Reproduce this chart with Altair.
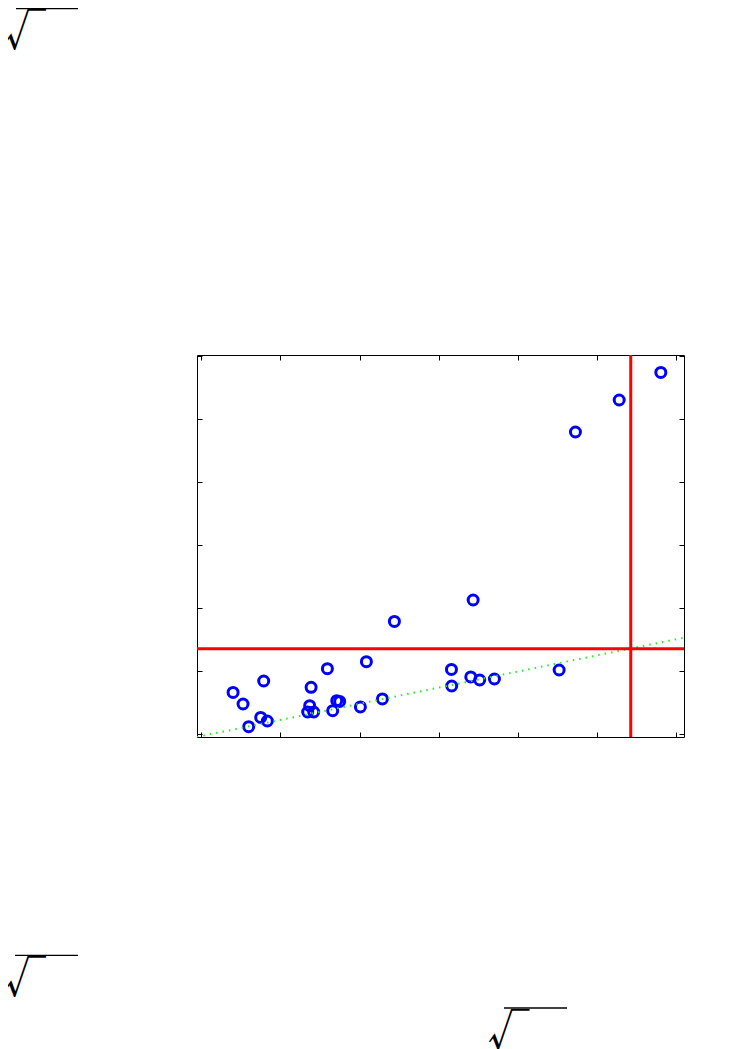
import altair as alt
import pandas as pd

x_vals = [0.401, 0.527, 0.788, 0.598, 0.750, 0.834, 1.387, 1.369, 1.344, 1.420,
          1.593, 1.711, 1.748, 1.660, 2.010, 2.086, 2.288, 2.440, 3.435, 3.161,
          3.164, 3.405, 3.518, 3.704, 4.522, 4.728, 5.281, 5.807]
y_vals = [0.660, 0.476, 0.841, 0.116, 0.263, 0.206, 0.740, 0.449, 0.349, 0.349,
          1.037, 0.529, 0.517, 0.370, 0.429, 1.148, 0.556, 1.787, 2.127, 1.025,
          0.762, 0.905, 0.857, 0.873, 1.016, 4.794, 5.302, 5.740]

x_ticks = [0, 1, 2, 3, 4, 5, 6]
y_ticks = [0, 1, 2, 3, 4, 5, 6]
x_domain = [-0.055, 6.10]
y_domain = [-0.048, 6.016]
vline_x = [5.427]
hline_y = [1.354]
fit_x = [-0.055, 6.10]
fit_y = [-0.047, 1.529]

pts = pd.DataFrame({"x": x_vals, "y": y_vals})
fit = pd.DataFrame({"x": fit_x, "y": fit_y})
vl = pd.DataFrame({"x": vline_x})
hl = pd.DataFrame({"y": hline_y})

xs = alt.Scale(domain=x_domain, nice=False, zero=False)
ys = alt.Scale(domain=y_domain, nice=False, zero=False)

def ax(orient, vals):
    return alt.Axis(orient=orient, values=vals, labels=False, domain=False, grid=False,
                    tickSize=5, offset=-5, tickColor="black", tickWidth=1, title=None)

points = alt.Chart(pts).mark_point(shape="circle", filled=False, color="#0000ff",
                                   size=100, strokeWidth=3, opacity=1).encode(
    x=alt.X("x:Q", scale=xs, axis=ax("bottom", x_ticks)),
    y=alt.Y("y:Q", scale=ys, axis=ax("left", y_ticks)),
)
fitline = alt.Chart(fit).mark_line(color="#22ee22", strokeDash=[1.5, 5], strokeWidth=2,
                                   clip=True).encode(
    x=alt.X("x:Q", scale=xs, axis=ax("top", x_ticks)),
    y=alt.Y("y:Q", scale=ys, axis=ax("right", y_ticks)),
)
vrule = alt.Chart(vl).mark_rule(color="#ff0000", strokeWidth=3).encode(
    x=alt.X("x:Q", scale=xs, axis=None))
hrule = alt.Chart(hl).mark_rule(color="#ff0000", strokeWidth=3).encode(
    y=alt.Y("y:Q", scale=ys, axis=None))

# stray radical-sign text remnants around the figure
glyph_x = [-193, -193, 290.5]
glyph_y = [-308.7, 638.1, 690.8]
bar_specs = [(-181, -119, -346.5), (-182, -119, 600.3), (307, 370, 653)]
extras = []
for gx, gy in zip(glyph_x, glyph_y):
    extras.append(alt.Chart(pd.DataFrame({"a": [0]})).mark_text(
        text="√", font="Noto Sans CJK SC", fontSize=42, align="left", baseline="alphabetic",
        color="black").encode(x=alt.value(gx), y=alt.value(gy)))
for x1, x2, yy in bar_specs:
    extras.append(alt.Chart(pd.DataFrame({"a": [0]})).mark_rule(color="black", strokeWidth=1.3).encode(
        x=alt.value(x1), x2=alt.value(x2), y=alt.value(yy)))

chart = alt.layer(points, fitline, vrule, hrule, *extras).resolve_axis(
    x="independent", y="independent"
).properties(
    width=487, height=382,
    autosize=alt.AutoSizeParams(type="none"),
    padding={"left": 189, "top": 347, "right": 50, "bottom": 312},
).configure(background="white").configure_view(stroke="black", strokeWidth=1)

chart.save("out.html", embed_options={"renderer": "svg", "actions": False})
